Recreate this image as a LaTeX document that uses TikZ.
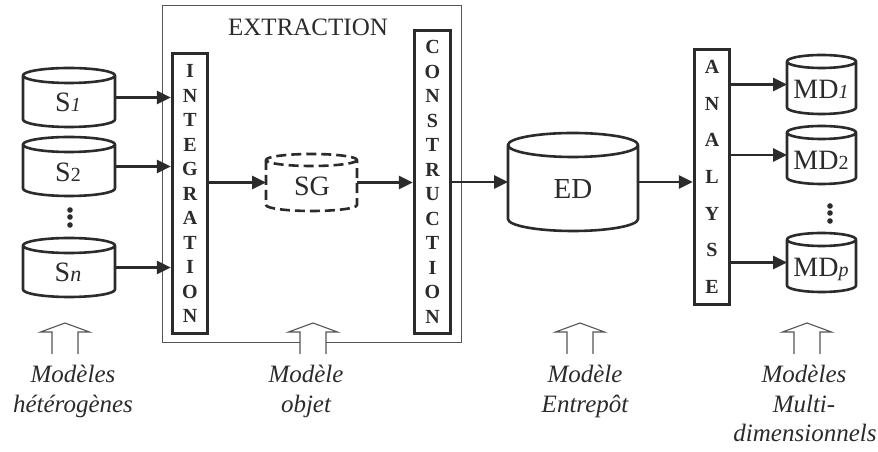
\documentclass[tikz,border=0pt]{standalone}
\usepackage{fontspec}
\setmainfont{Liberation Serif}
\usetikzlibrary{arrows.meta}
\definecolor{inkc}{HTML}{2B2B2B}
\definecolor{thinc}{HTML}{555555}
\newcommand\dbcyl[8]{%
  \pgfmathsetmacro\dbcx{(#3+#4)/2}%
  \pgfmathsetmacro\dbrx{(#4-#3)/2}%
  \pgfmathsetmacro\dbyt{452-#5}%
  \pgfmathsetmacro\dbyb{452-#6}%
  \pgfmathsetmacro\dbcy{(\dbyt+\dbyb)/2}%
  \pgfmathsetmacro\dbw{#4-#3}%
  \pgfmathsetmacro\dbh{#6-#5}%
  \node[inner sep=0pt, outer sep=0pt, minimum width=\dbw pt, minimum height=\dbh pt] (#2) at (\dbcx,\dbcy) {};
  \draw[#1] (#3,\dbyt-#7) -- (#3,\dbyb+#7)
     arc[start angle=180,end angle=360,x radius=\dbrx pt,y radius=#7 pt]
     -- (#4,\dbyt-#7)
     arc[start angle=0,end angle=360,x radius=\dbrx pt,y radius=#7 pt];
  #8
}
\newcommand\hollowup[2]{%
  \coordinate (#2) at (#1,129);
  \draw[upar] (#1-13,98) -- (#1-13,120) -- (#1-24.5,120) -- (#2)
     -- (#1+24.5,120) -- (#1+13,120) -- (#1+13,98);
}
\tikzset{
  arr/.style={draw=inkc, line width=2.6pt, -{Triangle[length=14pt,width=13pt]}},
  cylline/.style={draw=inkc, line width=2.6pt, line join=round},
  cyldash/.style={cylline, dash pattern=on 10pt off 5pt},
  vbox/.style={draw=inkc, line width=3pt, inner sep=0pt, align=center,
     font=\fontsize{20}{24.5}\selectfont\bfseries, text=inkc},
  upar/.style={draw=thinc, line width=1.1pt, fill=white, line join=miter},
  lab/.style={font=\fontsize{25}{30}\selectfont\itshape, anchor=base, inner sep=0pt, text=inkc},
  cyltxt/.style={font=\fontsize{28}{34}\selectfont, anchor=base, inner sep=0pt, text=inkc},
  dotc/.style={fill=inkc},
}
\newcommand\subi[1]{{\fontsize{20}{24}\selectfont\itshape #1}}
\newcommand\subu[1]{{\fontsize{20}{24}\selectfont #1}}
\begin{document}
\begin{tikzpicture}[x=1pt,y=1pt]
\useasboundingbox (0,0) rectangle (878,452);
% extraction frame
\node[draw=thinc, line width=1pt, minimum width=299pt, minimum height=337pt, inner sep=0pt] (extr) at (311.5,277.5) {};
\node[anchor=base, font=\fontsize{25}{30}\selectfont, inner sep=0pt, text=inkc] (extrt) at (308,416) {EXTRACTION};
% vertical boxes
\node[vbox, minimum width=35.5pt, minimum height=280.5pt] (integ) at (190,258.5)
  {I\\N\\T\\E\\G\\R\\A\\T\\I\\O\\N};
\node[vbox, minimum width=36.5pt, minimum height=303.5pt] (cons) at (432.5,270)
  {C\\O\\N\\S\\T\\R\\U\\C\\T\\I\\O\\N};
\node[vbox, minimum width=35.5pt, minimum height=255.5pt, font=\fontsize{20}{36.7}\selectfont\bfseries] (ana) at (712,275)
  {A\\N\\A\\L\\Y\\S\\E};
% cylinders
\dbcyl{cylline}{s1}{23}{115}{68}{127}{7.5}{\node[cyltxt] (s1t) at (68,340) {S\subi{1}};}
\dbcyl{cylline}{s2}{23}{115}{137}{196}{7.5}{\node[cyltxt] (s2t) at (68,270) {S\subu{2}};}
\dbcyl{cylline}{sn}{23}{115}{238}{297}{7.5}{\node[cyltxt] (snt) at (68,170) {S{\fontsize{22}{26}\selectfont\itshape n}};}
\dbcyl{cyldash}{sg}{266}{357}{154}{211}{6}{\node[cyltxt] (sgt) at (312,256) {SG};}
\dbcyl{cylline}{ed}{508}{638}{133}{231}{12}{\node[cyltxt, font=\fontsize{29}{34}\selectfont] (edt) at (573,253) {ED};}
\dbcyl{cylline}{md1}{787}{856}{55}{114}{6.5}{\node[cyltxt] (md1t) at (821,353) {MD\subi{1}};}
\dbcyl{cylline}{md2}{787}{856}{126}{184}{6.5}{\node[cyltxt] (md2t) at (821,282) {MD\subu{2}};}
\dbcyl{cylline}{mdp}{787}{856}{233}{292}{6.5}{\node[cyltxt] (mdpt) at (821,175) {MD\subi{p}};}
% dots
\fill[dotc] (70,242) circle (2.8) (70,235) circle (2.8) (70,227) circle (2.8);
\fill[dotc] (830,246) circle (2.8) (830,239) circle (2.8) (830,231) circle (2.8);
% arrows
\draw[arr] (s1.east) -- (s1.east -| integ.west);
\draw[arr] (s2.east) -- (s2.east -| integ.west);
\draw[arr] (sn.east) -- (sn.east -| integ.west);
\draw[arr] (sg.west -| integ.east) -- (sg.west);
\draw[arr] (sg.east) -- (sg.east -| cons.west);
\draw[arr] (ed.west -| cons.east) -- (ed.west);
\draw[arr] (ed.east) -- (ed.east -| ana.west);
\draw[arr] (md1.west -| ana.east) -- (md1.west);
\draw[arr] (md2.west -| ana.east) -- (md2.west);
\draw[arr] (mdp.west -| ana.east) -- (mdp.west);
% hollow up arrows
\hollowup{65}{up1}
\hollowup{313}{up2}
\hollowup{580}{up3}
\hollowup{807}{up4}
% labels
\node[lab] (l1a) at (73,69) {Modèles};
\node[lab] (l1b) at (73,39) {hétérogènes};
\node[lab] (l2a) at (306,69) {Modèle};
\node[lab] (l2b) at (306,39) {objet};
\node[lab] (l3a) at (585,69) {Modèle};
\node[lab] (l3b) at (585,39) {Entrepôt};
\node[lab] (l4a) at (804,69) {Modèles};
\node[lab] (l4b) at (804,39) {Multi-};
\node[lab] (l4c) at (805,10) {dimensionnels};
\end{tikzpicture}
\end{document}
